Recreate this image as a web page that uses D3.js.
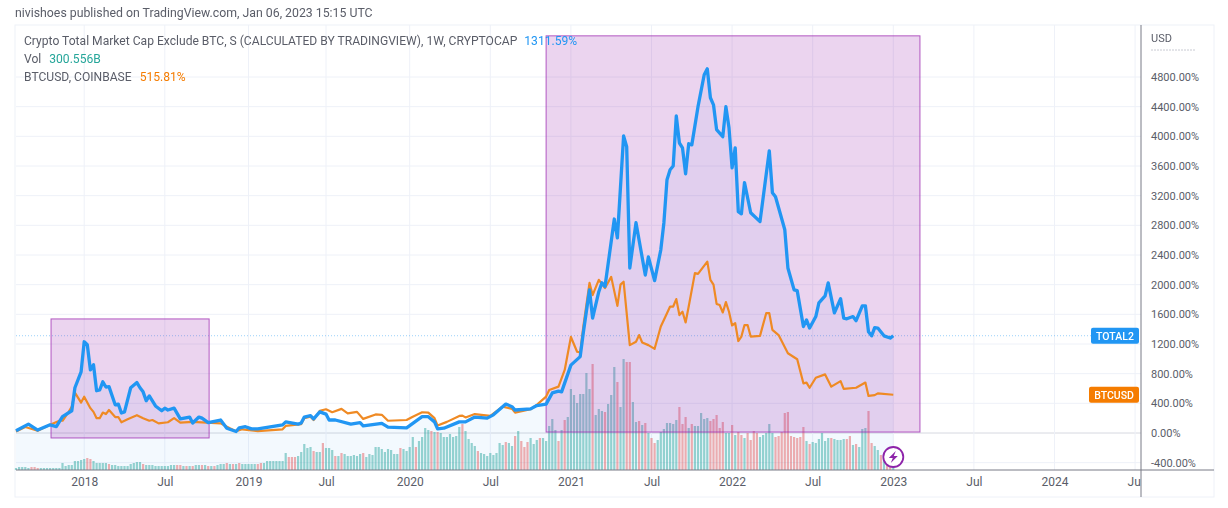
<!DOCTYPE html>
<html>
<head>
<meta charset="utf-8">
<title>TOTAL2 vs BTCUSD</title>
<script src="https://cdn.jsdelivr.net/npm/d3@7/dist/d3.min.js"></script>
<style>
  html, body { margin: 0; padding: 0; background: #fff; }
  svg { display: block; font-family: Roboto, "Liberation Sans", Arial, sans-serif; filter: blur(0.35px); }
  text { fill: #5a5d68; }
</style>
</head>
<body>
<svg id="chart" width="1228" height="508"></svg>
<script>
  // ===== data; x is the weekly bar index, 0 = first bar =====

  var TOTAL_WEEKS = [0,4,7,11,13,15,18,19,21,22,23,24,25,26,27,28,29,30,32,33,34,35,37,39,40,41,42,43,45,47,48,49,51,53,56,57,59,60,62,66,68,71,72,74,76,78,80,86,87,91,92,93,95,96,98,100,101,103,108,111,112,118,120,126,129,131,133,135,136,138,143,145,148,152,154,158,160,161,166,168,171,173,175,176,179,182,183,185,186,188,189,190,193,194,196,197,198,200,203,204,206,208,209,210,211,212,213,214,215,216,217,218,220,222,223,224,225,226,228,229,230,231,232,233,234,235,237,240,243,244,245,248,249,251,252,254,255,256,258,259,261,262,264,266,267,268,270,271,273,274,275,276,277,278,280,282,283];
  var TOTAL_PCT = [30,120,40,110,85,220,300,610,825,1230,1190,850,920,570,580,690,620,625,380,390,270,285,610,680,610,555,435,500,365,300,335,310,335,190,215,135,215,200,140,175,65,20,70,85,55,55,70,110,150,120,135,215,235,190,285,255,175,175,120,140,95,130,80,70,160,220,220,150,55,65,150,150,215,200,245,390,355,310,325,370,390,540,565,555,915,1030,1350,1930,1550,1905,2025,1975,2885,2630,4005,3860,2225,2835,2130,2375,2055,2470,2835,3415,3550,3600,4275,3910,3845,3495,3900,3885,4400,4830,4910,4520,4425,4090,3995,4400,4115,3575,3845,2985,2955,3375,2970,2850,3805,3240,3185,2740,2225,1930,1920,1435,1525,1415,1570,1755,1850,2025,1620,1810,1550,1540,1570,1515,1715,1715,1365,1310,1420,1415,1310,1280,1312];

  var BTC_WEEKS = [0,3,7,11,14,15,17,18,19,21,22,24,25,26,27,28,29,30,32,33,34,36,39,41,43,44,46,49,51,53,57,66,69,71,73,78,86,87,92,93,95,96,98,100,102,105,107,110,112,116,118,120,126,128,131,133,135,136,139,143,144,145,148,153,157,160,161,166,168,171,172,175,177,179,181,182,183,185,186,188,190,192,194,195,196,198,200,201,202,204,206,208,210,211,212,213,214,215,216,217,219,220,223,224,225,226,227,228,229,230,231,232,233,234,235,236,237,240,242,243,244,246,249,252,254,255,256,258,261,263,266,267,271,274,275,277,278,283];
  var BTC_PCT = [20,80,30,110,165,165,285,355,545,410,490,335,285,200,200,275,255,310,215,215,145,185,240,200,165,175,130,145,200,140,150,130,65,25,50,25,50,95,120,200,220,175,300,320,280,325,265,285,190,250,245,165,175,220,280,275,200,100,150,230,235,210,255,230,355,325,275,320,380,490,580,625,850,1295,1095,1085,1435,2025,1860,2065,1955,2105,1715,2000,2040,1185,1230,1320,1220,1185,1135,1435,1615,1705,1705,1805,1590,1635,1490,1705,2155,2145,2310,2065,2000,1740,1725,1625,1765,1635,1450,1480,1240,1300,1455,1455,1300,1310,1615,1615,1390,1320,1075,995,670,680,610,745,790,625,700,595,610,680,500,510,535,516];

  // weekly volume in billions, one per bar
  var VOLUME = [60,90,90,90,60,90,90,60,60,60,60,60,60,60,60,210,120,150,150,270,270,300,330,360,330,270,210,210,210,210,180,150,150,120,120,120,120,180,210,240,240,180,150,150,150,120,120,120,120,120,150,150,150,150,120,120,120,120,150,150,150,150,120,120,120,150,180,180,210,180,180,180,210,180,180,180,180,180,180,210,210,270,270,270,270,270,270,510,390,390,390,420,
    540,780,660,690,570,540,540,810,660,660,600,420,420,510,480,420,420,450,420,480,510,390,480,450,690,690,630,540,630,600,480,480,660,630,570,690,990,690,870,990,1260,1200,1170,1140,1140,1110,990,990,1080,990,1020,1290,1380,1170,930,810,720,570,510,480,420,510,450,510,810,750,840,810,720,1020,1170,870,690,840,960,780,900,960,960,870,1320,1530,1200,870,1200,1500,1590,2430,2250,2010,2280,2280,2910,2430,3180,1650,1830,
    1770,1740,1980,2250,3090,2640,1890,3330,3240,3240,2040,1440,1470,1350,1410,1110,960,810,900,1140,1230,1410,1410,1380,1500,1890,1380,1590,1260,1380,1320,1320,1710,1530,1560,1470,1530,1650,1260,1440,
    1110,1110,1350,1050,1140,1050,960,1110,900,1170,1110,990,1050,1110,1380,1110,990,1020,1140,1710,1740,1020,990,960,990,1290,870,780,840,810,930,1110,870,960,960,930,900,900,930,930,1020,750,780,690,1230,1260,1770,810,720,600,450,330,210,120,300.556];

  // bars that closed down
  var VOLUME_DOWN = [5,6,7,23,24,30,41,52,53,55,57,60,62,64,68,70,72,78,79,88,89,90,96,99,103,105,112,124,129,134,136,144,149,158,161,163,164,165,169,175,177,186,190,194,197,198,201,203,205,206,214,215,216,218,224,225,226,227,228,231,233,234,236,237,238,239,245,246,247,248,249,250,251,252,253,254,256,263,268,269,271,275,276,279,281,282];

  var TIME_TICK_WEEKS = [22,48,75,100,127,153,179,205,231,257,283,309,335,361];
  var TIME_TICK_LABELS = ['2018','Jul','2019','Jul','2020','Jul','2021','Jul','2022','Jul','2023','Jul','2024','Jul'];
  var PCT_TICKS = [-400,0,400,800,1200,1600,2000,2400,2800,3200,3600,4000,4400,4800];

  // highlighted boxes: [first week, last week, low %, high %]
  var BOX_WEEKS = [[11.3, 62.3], [171, 291.6]];
  var BOX_PCT = [[-67, 1538], [13, 5355]];

  var TITLE_TEXT = 'nivishoes published on TradingView.com, Jan 06, 2023 15:15 UTC';
  var LEGEND_NAME = 'Crypto Total Market Cap Exclude BTC, S (CALCULATED BY TRADINGVIEW), 1W, CRYPTOCAP';
  var LAST_TOTAL = 1311.59;
  var LAST_BTC = 515.81;

  var BLUE = '#2196f3';
  var ORANGE = '#f57c00';
  var GRID = '#eef1f8';

  function zipPoints(weeks, values) {
    return weeks.map(function (w, i) { return { w: w, v: values[i] }; });
  }

  function drawChart() {
    var svg = d3.select('#chart');
    var plot = { left: 16, right: 1141, top: 25, bottom: 470, outer: 1214, foot: 497 };

    var x = d3.scaleLinear().domain([0, 283]).range([16, 893.3]);
    var y = d3.scaleLinear().domain([0, 4800]).range([433, 77]);
    var yVol = d3.scaleLinear().domain([0, 3330]).range([plot.bottom, plot.bottom - 111]);

    var defs = svg.append('defs');
    defs.append('clipPath').attr('id', 'plotClip').append('rect')
      .attr('x', plot.left).attr('y', 0)
      .attr('width', plot.right - plot.left).attr('height', 508);

    // 外框
    svg.append('rect')
      .attr('x', plot.left - 1).attr('y', plot.top)
      .attr('width', plot.outer - plot.left + 1).attr('height', plot.foot - plot.top)
      .attr('fill', '#fff').attr('stroke', GRID);

    // 网格
    svg.append('g').selectAll('line').data(PCT_TICKS).join('line')
      .attr('x1', plot.left).attr('x2', plot.right)
      .attr('y1', function (d) { return y(d); }).attr('y2', function (d) { return y(d); })
      .attr('stroke', function (d) { return d === 0 ? '#d6d8e0' : GRID; });

    svg.append('g').selectAll('line').data(TIME_TICK_WEEKS).join('line')
      .attr('x1', function (d) { return x(d); }).attr('x2', function (d) { return x(d); })
      .attr('y1', plot.top).attr('y2', plot.bottom)
      .attr('stroke', GRID);

    // 成交量
    svg.append('g').selectAll('rect').data(VOLUME).join('rect')
      .attr('x', function (d, i) { return x(i) - 1.1; })
      .attr('width', 2.2)
      .attr('y', function (d) { return yVol(d); })
      .attr('height', function (d) { return plot.bottom - yVol(d); })
      .attr('fill', function (d, i) { return VOLUME_DOWN.indexOf(i) >= 0 ? '#ef5350' : '#26a69a'; })
      .attr('opacity', 0.47);

    // TOTAL2 面积
    var totalPoints = zipPoints(TOTAL_WEEKS, TOTAL_PCT);
    var btcPoints = zipPoints(BTC_WEEKS, BTC_PCT);

    svg.append('path').datum(totalPoints)
      .attr('fill', BLUE).attr('fill-opacity', 0.055)
      .attr('d', d3.area()
        .x(function (d) { return x(d.w); })
        .y0(plot.bottom)
        .y1(function (d) { return y(d.v); }));

    // 最新价虚线
    svg.append('line')
      .attr('x1', plot.left).attr('x2', 1091)
      .attr('y1', y(LAST_TOTAL)).attr('y2', y(LAST_TOTAL))
      .attr('stroke', BLUE).attr('stroke-opacity', 0.45)
      .attr('stroke-dasharray', '1,2');

    // 高亮框
    svg.append('g').selectAll('rect').data(BOX_WEEKS).join('rect')
      .attr('x', function (d) { return x(d[0]); })
      .attr('width', function (d) { return x(d[1]) - x(d[0]); })
      .attr('y', function (d, i) { return y(BOX_PCT[i][1]); })
      .attr('height', function (d, i) { return y(BOX_PCT[i][0]) - y(BOX_PCT[i][1]); })
      .attr('fill', '#9c27b0').attr('fill-opacity', 0.2)
      .attr('stroke', '#9c27b0').attr('stroke-opacity', 0.75);

    // 折线
    var line = d3.line()
      .x(function (d) { return x(d.w); })
      .y(function (d) { return y(d.v); });

    svg.append('path').datum(btcPoints)
      .attr('fill', 'none').attr('stroke', '#ef8a24').attr('stroke-width', 2.2)
      .attr('stroke-linejoin', 'round').attr('d', line);

    svg.append('path').datum(totalPoints)
      .attr('fill', 'none').attr('stroke', BLUE).attr('stroke-width', 3.3)
      .attr('stroke-linejoin', 'round').attr('d', line);

    // 坐标轴
    var xAxis = d3.axisBottom(x)
      .tickValues(TIME_TICK_WEEKS)
      .tickSize(0).tickPadding(7)
      .tickFormat(function (d, i) { return TIME_TICK_LABELS[i]; });

    var xGroup = svg.append('g')
      .attr('transform', 'translate(0,' + plot.bottom + ')')
      .attr('clip-path', 'url(#plotClip)')
      .call(xAxis);
    xGroup.select('.domain').remove();
    xGroup.selectAll('text')
      .attr('font-family', 'Roboto, sans-serif')
      .attr('font-size', 12);

    var yAxis = d3.axisRight(y)
      .tickValues(PCT_TICKS)
      .tickSize(0).tickPadding(10)
      .tickFormat(function (d) { return d.toFixed(2) + '%'; });

    var yGroup = svg.append('g')
      .attr('transform', 'translate(' + plot.right + ',0)')
      .call(yAxis);
    yGroup.select('.domain').remove();
    yGroup.selectAll('text')
      .attr('font-family', 'Roboto, sans-serif')
      .attr('font-size', 11);

    svg.append('line')
      .attr('x1', plot.right).attr('x2', plot.right)
      .attr('y1', plot.top).attr('y2', plot.foot)
      .attr('stroke', '#787b86');
    svg.append('line')
      .attr('x1', plot.left).attr('x2', plot.outer)
      .attr('y1', plot.bottom).attr('y2', plot.bottom)
      .attr('stroke', '#787b86');

    svg.append('text').attr('x', 1151).attr('y', 42)
      .attr('font-size', 11).text('USD');
    svg.append('line')
      .attr('x1', 1151).attr('x2', 1196).attr('y1', 50).attr('y2', 50)
      .attr('stroke', '#c8cad2').attr('stroke-dasharray', '2,1');

    // 价格标签
    drawTag(svg, 'TOTAL2', 1091, y(LAST_TOTAL), BLUE);
    drawTag(svg, 'BTCUSD', 1089, y(LAST_BTC), ORANGE);

    // 标题和图例
    svg.append('text').attr('x', 15).attr('y', 17)
      .attr('font-size', 12.3).text(TITLE_TEXT);

    var legend = svg.append('g').attr('font-size', 12.1);
    var row1 = legend.append('text').attr('x', 24).attr('y', 45);
    row1.append('tspan').text(LEGEND_NAME);
    row1.append('tspan').attr('dx', 7).style('fill', BLUE).text(LAST_TOTAL.toFixed(2) + '%');

    var row2 = legend.append('text').attr('x', 24).attr('y', 63);
    row2.append('tspan').text('Vol');
    row2.append('tspan').attr('dx', 8).style('fill', '#26a69a')
      .text(VOLUME[VOLUME.length - 1].toFixed(3) + 'B');

    var row3 = legend.append('text').attr('x', 24).attr('y', 81);
    row3.append('tspan').text('BTCUSD, COINBASE');
    row3.append('tspan').attr('dx', 8).style('fill', ORANGE).text(LAST_BTC.toFixed(2) + '%');

    drawBolt(svg, x(283), 457);
  }

  function drawTag(svg, label, left, cy, color) {
    svg.append('rect')
      .attr('x', left).attr('y', cy - 8)
      .attr('width', 1139 - left).attr('height', 16).attr('rx', 2)
      .attr('fill', color);
    svg.append('text')
      .attr('x', (left + 1139) / 2).attr('y', cy + 4)
      .attr('text-anchor', 'middle')
      .attr('font-size', 10.5).attr('font-weight', 500)
      .style('fill', '#fff')
      .text(label);
  }

  function drawBolt(svg, cx, cy) {
    var g = svg.append('g').attr('transform', 'translate(' + cx + ',' + cy + ')');
    g.append('circle').attr('r', 10).attr('fill', '#fff')
      .attr('stroke', '#8e24aa').attr('stroke-width', 1.8);
    g.append('path').attr('d', 'M2.5,-6 L-4.5,1 L-0.5,1 L-2.5,6 L4.5,-1 L0.5,-1 Z')
      .attr('fill', '#8e24aa');
  }

  drawChart();
</script>
</body>
</html>
